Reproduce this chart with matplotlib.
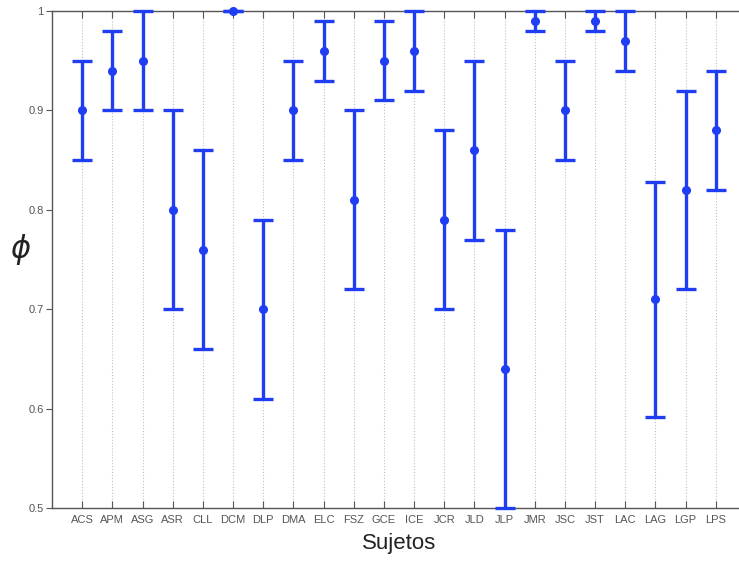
import matplotlib
matplotlib.use('Agg')
import matplotlib.pyplot as plt
import numpy as np

# 数据
sujetos = ['ACS', 'APM', 'ASG', 'ASR', 'CLL', 'DCM', 'DLP', 'DMA', 'ELC', 'FSZ', 'GCE',
           'ICE', 'JCR', 'JLD', 'JLP', 'JMR', 'JSC', 'JST', 'LAC', 'LAG', 'LGP', 'LPS']
phi_media = [0.90, 0.94, 0.95, 0.80, 0.76, 1.00, 0.70, 0.90, 0.96, 0.81, 0.95,
             0.96, 0.79, 0.86, 0.64, 0.99, 0.90, 0.99, 0.97, 0.71, 0.82, 0.88]
phi_inf = [0.85, 0.90, 0.90, 0.70, 0.66, 1.00, 0.61, 0.85, 0.93, 0.72, 0.91,
           0.92, 0.70, 0.77, 0.50, 0.98, 0.85, 0.98, 0.94, 0.592, 0.72, 0.82]
phi_sup = [0.95, 0.98, 1.00, 0.90, 0.86, 1.00, 0.79, 0.95, 0.99, 0.90, 0.99,
           1.00, 0.88, 0.95, 0.78, 1.00, 0.95, 1.00, 1.00, 0.828, 0.92, 0.94]
y_ticks = [0.5, 0.6, 0.7, 0.8, 0.9, 1.0]
y_tick_labels = ['0.5', '0.6', '0.7', '0.8', '0.9', '1']

azul = '#1f3df2'
gris = '#555555'

plt.rcParams['font.family'] = ['Liberation Sans', 'DejaVu Sans']

fig = plt.figure(figsize=(7.39, 5.61), dpi=100)
ax = fig.add_axes([52 / 739, 1 - 508 / 561, (746 - 52) / 739, 497 / 561])

x = np.arange(1, len(sujetos) + 1)
media = np.array(phi_media)
err = [media - np.array(phi_inf), np.array(phi_sup) - media]

ax.errorbar(x, media, yerr=err, fmt='o', color=azul, ecolor=azul,
            markersize=5.5, elinewidth=2.4, capsize=7, capthick=2.4,
            clip_on=False, zorder=3)

ax.set_xlim(0, 23)
ax.set_ylim(0.5, 1.0)
ax.set_xticks(x)
ax.set_xticklabels(sujetos, fontsize=8, color=gris)
ax.set_yticks(y_ticks)
ax.set_yticklabels(y_tick_labels, fontsize=8, color=gris)

ax.grid(axis='x', linestyle=':', color='#c0c0c0', linewidth=0.8)
ax.set_axisbelow(True)

ax.tick_params(axis='x', direction='in', length=5, color=gris, top=True, pad=5)
ax.tick_params(axis='y', direction='out', length=4, color=gris, right=True, pad=2)
for s in ax.spines.values():
    s.set_color(gris)
    s.set_linewidth(1.0)

ax.set_xlabel('Sujetos', fontsize=16, color='#222222', labelpad=6)
ax.set_ylabel(r'$\phi$', fontsize=22, rotation=0, color='#222222', va='center')
ax.yaxis.set_label_coords(-0.045, 0.52)

fig.savefig('out.png', dpi=100)
